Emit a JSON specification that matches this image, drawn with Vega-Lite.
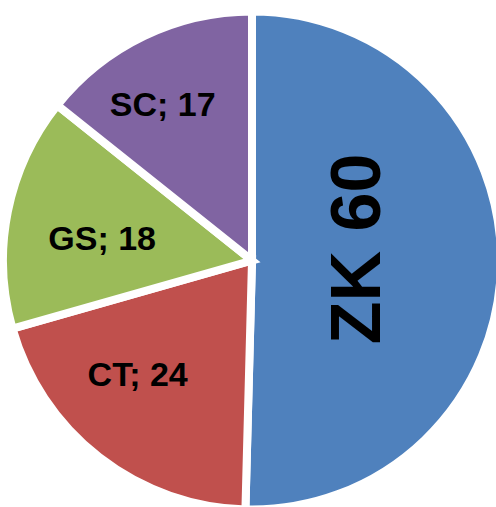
{
  "$schema": "https://vega.github.io/schema/vega-lite/v6.json",
  "width": 496,
  "height": 507,
  "autosize": {"type": "fit", "contains": "padding"},
  "padding": {"left": 8, "top": 14, "right": 0, "bottom": 0},
  "background": "white",
  "view": {"stroke": null},
  "data": {
    "values": [
      {"i": 1, "name": "ZK", "value": 60, "label": "ZK 60"},
      {"i": 2, "name": "CT", "value": 24, "label": "CT; 24"},
      {"i": 3, "name": "GS", "value": 18, "label": "GS; 18"},
      {"i": 4, "name": "SC", "value": 17, "label": "SC; 17"}
    ]
  },
  "transform": [
    {"stack": "value", "groupby": [], "sort": [{"field": "i", "order": "ascending"}], "as": ["v0", "v1"]},
    {"calculate": "(datum.v0 + datum.v1) / 2", "as": "mid"}
  ],
  "layer": [
    {
      "mark": {"type": "arc", "outerRadius": 249, "stroke": "white", "strokeWidth": 8, "strokeJoin": "miter"},
      "encoding": {
        "theta": {"field": "v0", "type": "quantitative", "scale": {"domain": [0, 119]}},
        "theta2": {"field": "v1"},
        "color": {
          "field": "name",
          "type": "nominal",
          "scale": {"domain": ["ZK", "CT", "GS", "SC"], "range": ["#4F81BD", "#C0504D", "#9BBB59", "#8064A2"]},
          "legend": null
        }
      }
    },
    {
      "transform": [{"filter": "datum.name === 'CT'"}],
      "mark": {"type": "text", "radius": 162, "dx": -15, "dy": -12, "font": "Liberation Sans", "fontWeight": "bold", "fontSize": 34, "color": "black", "align": "center", "baseline": "middle"},
      "encoding": {
        "theta": {"field": "mid", "type": "quantitative", "scale": {"domain": [0, 119]}},
        "text": {"field": "label"}
      }
    },
    {
      "transform": [{"filter": "datum.name === 'GS'"}],
      "mark": {"type": "text", "radius": 162, "dx": 9, "dy": 11, "font": "Liberation Sans", "fontWeight": "bold", "fontSize": 34, "color": "black", "align": "center", "baseline": "middle"},
      "encoding": {
        "theta": {"field": "mid", "type": "quantitative", "scale": {"domain": [0, 119]}},
        "text": {"field": "label"}
      }
    },
    {
      "transform": [{"filter": "datum.name === 'SC'"}],
      "mark": {"type": "text", "radius": 162, "dx": -19, "dy": -9, "font": "Liberation Sans", "fontWeight": "bold", "fontSize": 34, "color": "black", "align": "center", "baseline": "middle"},
      "encoding": {
        "theta": {"field": "mid", "type": "quantitative", "scale": {"domain": [0, 119]}},
        "text": {"field": "label"}
      }
    },
    {
      "transform": [{"filter": "datum.name === 'ZK'"}],
      "mark": {"type": "text", "radius": 107, "angle": 270, "dx": 13, "font": "Liberation Sans", "fontWeight": "bold", "fontSize": 70, "color": "black", "align": "center", "baseline": "middle"},
      "encoding": {
        "theta": {"field": "mid", "type": "quantitative", "scale": {"domain": [0, 119]}},
        "text": {"field": "label"}
      }
    }
  ]
}
